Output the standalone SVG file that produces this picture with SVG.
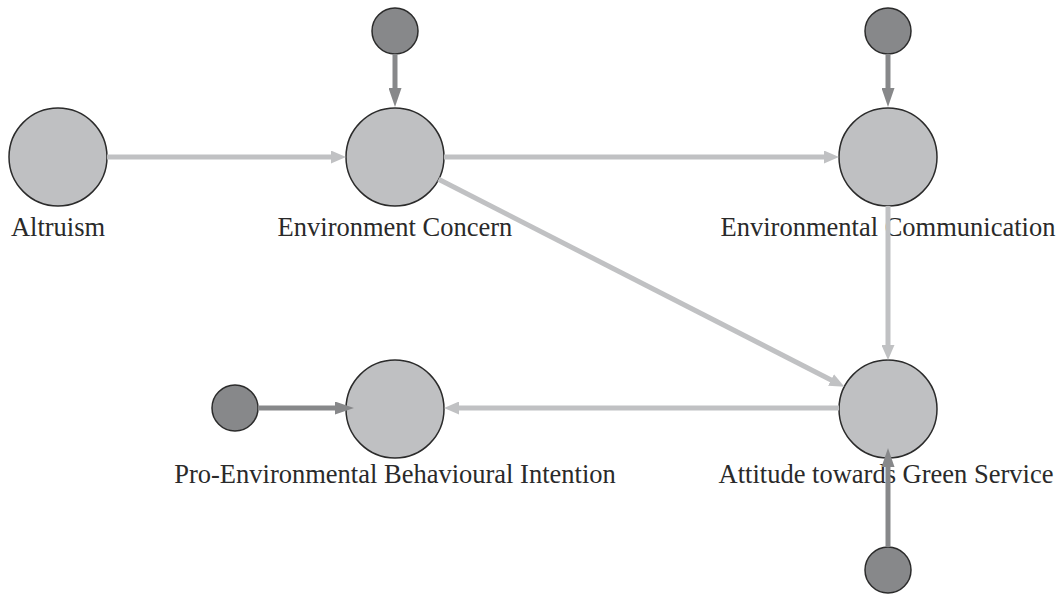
<svg xmlns="http://www.w3.org/2000/svg" width="1060" height="594" viewBox="0 0 1060 594">
<style>
.big{fill:#bfc0c2;stroke:#2b2b2b;stroke-width:1.5}
.small{fill:#87888a;stroke:#2b2b2b;stroke-width:1.5}
.lbl{font-size:26.5px;fill:#2a2a2a;text-anchor:middle}
.cl{stroke:#c0c1c3;stroke-width:5;fill:none;marker-end:url(#aL)}
.cd{stroke:#87888a;stroke-width:5;fill:none;marker-end:url(#aD)}
</style>
<defs>
<marker id="aL" viewBox="0 0 15 13" refX="5" refY="6.5" markerWidth="15" markerHeight="13" markerUnits="userSpaceOnUse" orient="auto"><path d="M0,0 L15,6.5 L0,13 z" fill="#c0c1c3"/></marker>
<marker id="aD" viewBox="0 0 19 13" refX="9" refY="6.5" markerWidth="19" markerHeight="13" markerUnits="userSpaceOnUse" orient="auto"><path d="M0,0 L19,6.5 L0,13 z" fill="#87888a"/></marker>
</defs>
<rect width="1060" height="594" fill="#ffffff"/>
<g font-family="'Liberation Serif', 'DejaVu Serif', 'Times New Roman', serif">
<g id="altruism"><circle class="big" cx="58" cy="157" r="49"/><text class="lbl" x="58" y="236">Altruism</text></g>
<g id="env-concern"><circle class="big" cx="395" cy="157" r="49"/><text class="lbl" x="395" y="236">Environment Concern</text></g>
<g id="env-comm"><circle class="big" cx="888" cy="157" r="49"/><text class="lbl" x="888" y="236">Environmental Communication</text></g>
<g id="pebi"><circle class="big" cx="395" cy="409" r="49"/><text class="lbl" x="395" y="483">Pro-Environmental Behavioural Intention</text></g>
<g id="attitude"><circle class="big" cx="888" cy="409" r="49"/><text class="lbl" x="886" y="483">Attitude towards Green Service</text></g>
</g>
<g id="err-ec"><circle class="small" cx="395" cy="31" r="23"/></g>
<g id="err-comm"><circle class="small" cx="888" cy="31" r="23"/></g>
<g id="err-pebi"><circle class="small" cx="235" cy="408" r="23"/></g>
<g id="err-att"><circle class="small" cx="888" cy="570" r="23"/></g>
<g id="connectors">
<line class="cl" x1="107" y1="157" x2="336" y2="157"/>
<line class="cd" x1="395" y1="54" x2="395" y2="97"/>
<line class="cl" x1="444" y1="157" x2="829" y2="157"/>
<line class="cd" x1="888" y1="54" x2="888" y2="97"/>
<line class="cl" x1="888" y1="206" x2="888" y2="350"/>
<line class="cl" x1="438.6" y1="179.3" x2="835.5" y2="382.2"/>
<line class="cl" x1="839" y1="408" x2="454" y2="408"/>
<line class="cd" x1="258" y1="408" x2="344" y2="408"/>
<line class="cd" x1="888" y1="547" x2="888" y2="458"/>
</g>
</svg>
